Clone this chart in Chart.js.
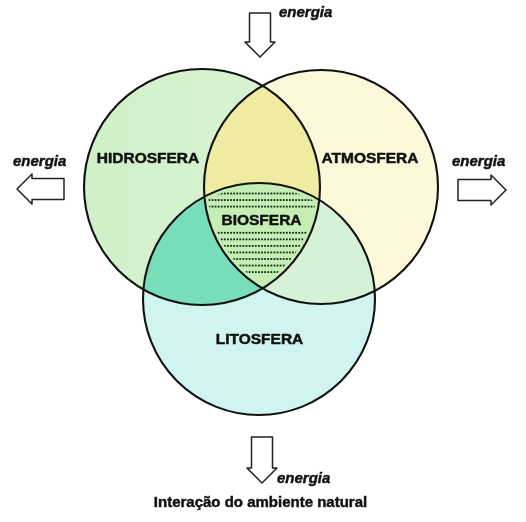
<!DOCTYPE html>
<html>
<head>
<meta charset="utf-8">
<script src="https://cdn.jsdelivr.net/npm/chart.js@4"></script>
<style>
html,body{margin:0;padding:0;background:#fff;}
#wrap{width:526px;height:522px;}
</style>
</head>
<body>
<div id="wrap"><canvas id="c" width="526" height="522"></canvas></div>
<script>
// ---- data (in axis units) ----
const setNames = ['HIDROSFERA', 'ATMOSFERA', 'LITOSFERA'];
const setX = [202, 321, 259];
const setY = [187, 187, 299];
const setR = [118, 117, 116];

const regionLabels = ['HIDROSFERA', 'ATMOSFERA', 'BIOSFERA', 'LITOSFERA'];
const labelX = [148, 370, 261.5, 259.5];
const labelY = [163, 163, 225, 344];

const flowLabels = ['energia', 'energia', 'energia', 'energia'];
const flowDir = ['down', 'left', 'right', 'down'];
const flowTipX = [260, 17, 506, 262];
const flowTipY = [57, 189, 190, 483];
const flowLen = [44, 47, 48, 46];
const flowTextX = [279, 13, 452, 277];
const flowTextY = [17, 166, 166, 483];

const titleText = 'Interação do ambiente natural';
const titleX = 260.5;
const titleY = 507;

// ---- styles ----
const colH = '#d6f2cd', colA = '#fdf8da', colL = '#d0f4f0';
const colHA = '#efeba0', colHL = '#78deba', colAL = '#d6f2d6', colHAL = '#c4eeb4';

const vennPlugin = {
  id: 'venn',
  beforeDatasetsDraw(chart) {
    const ctx = chart.ctx, xs = chart.scales.x, ys = chart.scales.y;
    const px = v => xs.getPixelForValue(v), py = v => ys.getPixelForValue(v);
    const pr = r => px(r) - px(0);
    const path = (i, inset) => { ctx.beginPath(); ctx.arc(px(setX[i]), py(setY[i]), pr(setR[i]) - (inset || 0), 0, Math.PI * 2); };
    const fill = (i, c) => { path(i); ctx.fillStyle = c; ctx.fill(); };
    const clip = (i, inset) => { path(i, inset); ctx.clip(); };

    ctx.save();
    fill(0, colH);
    ctx.save(); clip(0);
    const g = ctx.createLinearGradient(px(setX[0] - setR[0]), 0, px(setX[0] + setR[0]), 0);
    g.addColorStop(0, 'rgba(200,238,196,0.5)'); g.addColorStop(1, 'rgba(226,246,220,0.4)');
    ctx.fillStyle = g; ctx.fillRect(0, 0, chart.width, chart.height); ctx.restore();
    fill(1, colA);
    fill(2, colL);
    ctx.save(); clip(0); fill(1, colHA); ctx.restore();
    ctx.save(); clip(0); fill(2, colHL); ctx.restore();
    ctx.save(); clip(1); fill(2, colAL); ctx.restore();
    ctx.save(); clip(0); clip(1); fill(2, colHAL); ctx.restore();

    // dotted texture in the central region
    ctx.save(); clip(0, 3.5); clip(1, 3.5); clip(2, 3.5);
    ctx.fillStyle = '#10281a';
    for (let k = 0; k < 13; k++) {
      if (k >= 3 && k <= 5) continue;
      const y = py(193.5 + k * 6.55);
      for (let x = px(200); x < px(325); x += 3.1) {
        ctx.fillRect(x - 0.9, y - 0.9, 1.8, 1.8);
      }
    }
    ctx.restore();

    // outlines
    ctx.strokeStyle = '#111'; ctx.lineWidth = 2.1;
    for (let i = 0; i < setNames.length; i++) { path(i); ctx.stroke(); }

    // labels
    ctx.fillStyle = '#111'; ctx.strokeStyle = '#111'; ctx.lineWidth = 0.5;
    ctx.lineJoin = 'round';
    ctx.textBaseline = 'alphabetic';
    ctx.font = 'bold 15.5px "Liberation Sans", Arial, sans-serif';
    ctx.textAlign = 'center';
    regionLabels.forEach((t, i) => { ctx.fillText(t, px(labelX[i]), py(labelY[i])); ctx.strokeText(t, px(labelX[i]), py(labelY[i])); });

    // energy arrows
    flowDir.forEach((d, i) => {
      const tx = px(flowTipX[i]), ty = py(flowTipY[i]), L = pr(flowLen[i]);
      const sw = 10.5, hw = 15, hl = 15;
      const local = [[0, 0], [-hl, hw], [-hl, sw], [-L, sw], [-L, -sw], [-hl, -sw], [-hl, -hw]];
      const dirs = { down: [0, 1], up: [0, -1], left: [-1, 0], right: [1, 0] };
      const [ux, uy] = dirs[d];
      const pts = local.map(([a, b]) => [tx + a * ux - b * uy, ty + a * uy + b * ux]);
      ctx.beginPath();
      pts.forEach(([x, y], k) => k ? ctx.lineTo(x, y) : ctx.moveTo(x, y));
      ctx.closePath();
      ctx.fillStyle = '#fff'; ctx.fill();
      ctx.lineWidth = 1.5; ctx.strokeStyle = '#222'; ctx.stroke();
    });
    ctx.fillStyle = '#111'; ctx.strokeStyle = '#111'; ctx.lineWidth = 0.45;
    ctx.textAlign = 'left';
    ctx.font = 'italic bold 15px "Liberation Sans", Arial, sans-serif';
    flowLabels.forEach((t, i) => { ctx.fillText(t, px(flowTextX[i]), py(flowTextY[i])); ctx.strokeText(t, px(flowTextX[i]), py(flowTextY[i])); });

    ctx.textAlign = 'center';
    ctx.font = 'bold 15px "Liberation Sans", Arial, sans-serif';
    ctx.fillText(titleText, px(titleX), py(titleY));
    ctx.strokeText(titleText, px(titleX), py(titleY));
    ctx.restore();
  }
};

new Chart(document.getElementById('c'), {
  type: 'scatter',
  data: {
    datasets: [{
      label: 'sets',
      data: setX.map((x, i) => ({ x, y: setY[i] })),
      pointRadius: 0,
      pointHoverRadius: 0
    }]
  },
  options: {
    responsive: false,
    animation: false,
    devicePixelRatio: 1,
    layout: { padding: 0 },
    plugins: { legend: { display: false }, tooltip: { enabled: false } },
    events: [],
    scales: {
      x: { type: 'linear', min: 0, max: 526, display: false },
      y: { type: 'linear', min: 0, max: 522, reverse: true, display: false }
    }
  },
  plugins: [vennPlugin]
});
</script>
</body>
</html>
